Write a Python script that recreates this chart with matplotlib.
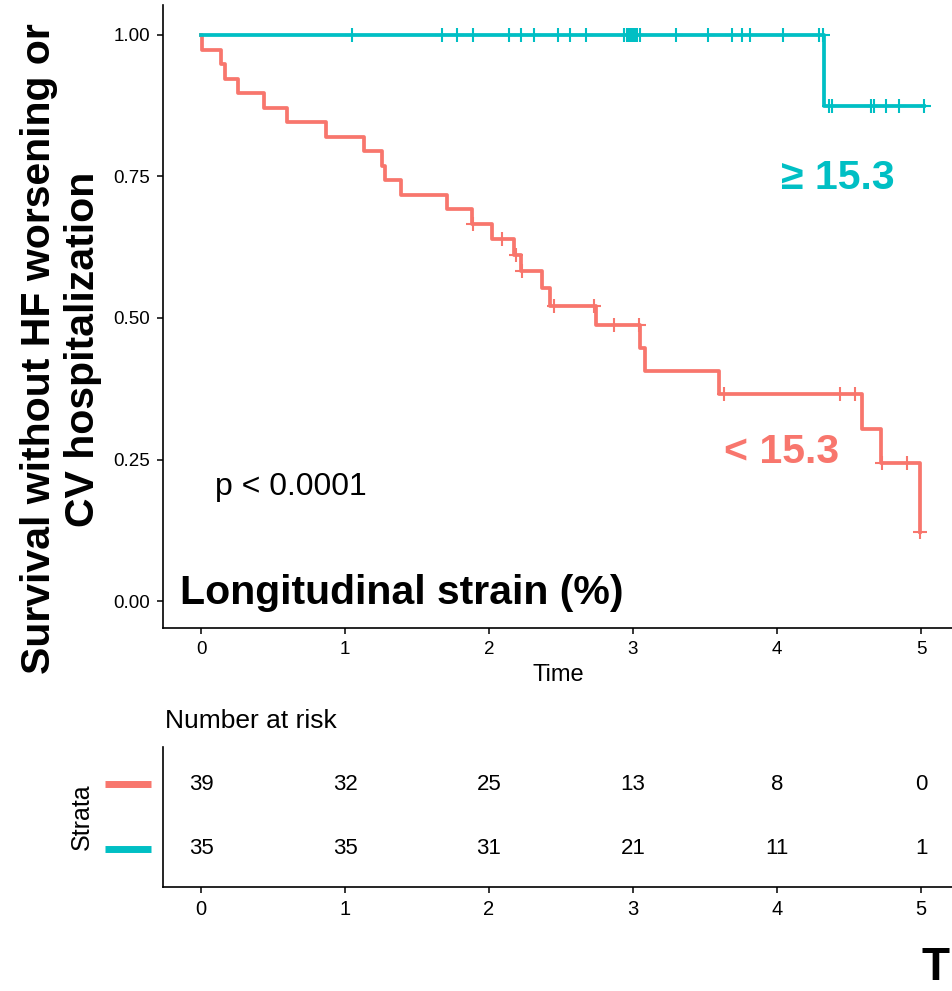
import matplotlib
matplotlib.use("Agg")
import matplotlib.pyplot as plt
from matplotlib.lines import Line2D

plt.rcParams['font.family'] = ['Liberation Sans', 'DejaVu Sans']

# follow-up times (years), split by outcome, for each strain group
low_events = [0.005, 0.14, 0.17, 0.26, 0.44, 0.595, 0.87, 1.13, 1.26, 1.28,
              1.39, 1.71, 1.88, 2.02, 2.175, 2.22, 2.37, 2.42, 2.74, 3.05,
              3.08, 3.60, 4.59, 4.72, 4.99]
low_censored = [1.89, 2.09, 2.19, 2.23, 2.45, 2.73, 2.87, 3.04, 3.63, 4.44,
                4.54, 4.73, 4.90, 4.995]
high_events = [4.326]
high_censored = [1.05, 1.67, 1.78, 1.89, 2.14, 2.22, 2.31, 2.48, 2.56, 2.67,
                 2.94, 2.955, 2.97, 2.985, 3.00, 3.00, 3.015, 3.03, 3.045,
                 3.30, 3.52, 3.69, 3.76, 3.81, 4.04, 4.29, 4.32, 4.36, 4.38,
                 4.65, 4.67, 4.76, 4.85, 5.02]

risk_times = [0, 1, 2, 3, 4, 5]
risk_low = [39, 32, 25, 13, 8, 0]
risk_high = [35, 35, 31, 21, 11, 1]

y_ticks = [0.0, 0.25, 0.50, 0.75, 1.00]
y_tick_labels = ['0.00', '0.25', '0.50', '0.75', '1.00']

RED = '#F8766D'
TEAL = '#00BFC4'

W, H = 953, 991


def km_curve(events, censored):
    recs = sorted([(t, 1) for t in events] + [(t, 0) for t in censored])
    at_risk = len(recs)
    s = 1.0
    xs, ys, cx, cy = [0.0], [1.0], [], []
    for t, d in recs:
        if d:
            s *= (at_risk - 1) / at_risk
            xs.append(t)
            ys.append(s)
        else:
            cx.append(t)
            cy.append(s)
        at_risk -= 1
    xs.append(recs[-1][0])
    ys.append(s)
    return xs, ys, cx, cy


def fx(px):
    return px / W


def fy(py):
    return 1 - py / H


fig = plt.figure(figsize=(W / 100, H / 100), dpi=100)

# survival panel
ax = fig.add_axes([fx(163), fy(628), fx(953 - 163), (628 - 5) / H])
for ev, ce, col in ((low_events, low_censored, RED),
                    (high_events, high_censored, TEAL)):
    xs, ys, cx, cy = km_curve(ev, ce)
    ax.step(xs, ys, where='post', color=col, lw=2.7, zorder=3)
    ax.plot(cx, cy, '+', color=col, ms=9.5, mew=1.5, zorder=4)

ax.set_xlim(-0.264, 5.222)
ax.set_ylim(-0.0477, 1.053)
ax.set_xticks(risk_times)
ax.set_yticks(y_ticks)
ax.set_yticklabels(y_tick_labels)
for s in ('top', 'right'):
    ax.spines[s].set_visible(False)
for s in ('left', 'bottom'):
    ax.spines[s].set_linewidth(1.2)
ax.tick_params(labelsize=13.5, length=4.5, width=1.1, pad=5, colors='black')
ax.set_xlabel('Time', fontsize=17, labelpad=4)

ax.text(0.097, 0.201, 'p < 0.0001', fontsize=23, va='center', ha='left')
ax.text(-0.146, 0.014, 'Longitudinal strain (%)', fontsize=29.5,
        fontweight='bold', va='center', ha='left')
ax.text(4.42, 0.747, '\u2265 15.3', fontsize=29.5, fontweight='bold',
        color=TEAL, ha='center', va='center')
ax.text(4.03, 0.263, '< 15.3', fontsize=29.5, fontweight='bold',
        color=RED, ha='center', va='center')

fig.text(fx(61), fy(349), 'Survival without HF worsening or\nCV hospitalization',
         rotation=90, ha='center', va='center', multialignment='center',
         fontsize=29.5, fontweight='bold', linespacing=1.22)

# number-at-risk table
rt = fig.add_axes([fx(163), fy(887), fx(953 - 163), (887 - 747) / H])
rt.set_xlim(-0.264, 5.222)
rt.set_ylim(0.415, 2.57)
for t, a, b in zip(risk_times, risk_low, risk_high):
    rt.text(t, 2, str(a), ha='center', va='center', fontsize=16)
    rt.text(t, 1, str(b), ha='center', va='center', fontsize=16)
rt.set_xticks(risk_times)
rt.set_yticks([])
for s in ('top', 'right'):
    rt.spines[s].set_visible(False)
for s in ('left', 'bottom'):
    rt.spines[s].set_linewidth(1.2)
rt.tick_params(labelsize=14.5, length=4.5, width=1.1, pad=5, colors='black')

fig.text(fx(165), fy(721), 'Number at risk', fontsize=19, ha='left', va='center')
fig.text(fx(82), fy(817), 'Strata', fontsize=18, rotation=90,
         ha='center', va='center')
for py, col in ((784, RED), (849, TEAL)):
    fig.add_artist(Line2D([fx(105), fx(151)], [fy(py), fy(py)], color=col,
                          lw=5, solid_capstyle='butt'))

fig.text(fx(950), fy(968), 'T', fontsize=33, fontweight='bold',
         ha='right', va='center')

fig.savefig('out.png', dpi=100)
